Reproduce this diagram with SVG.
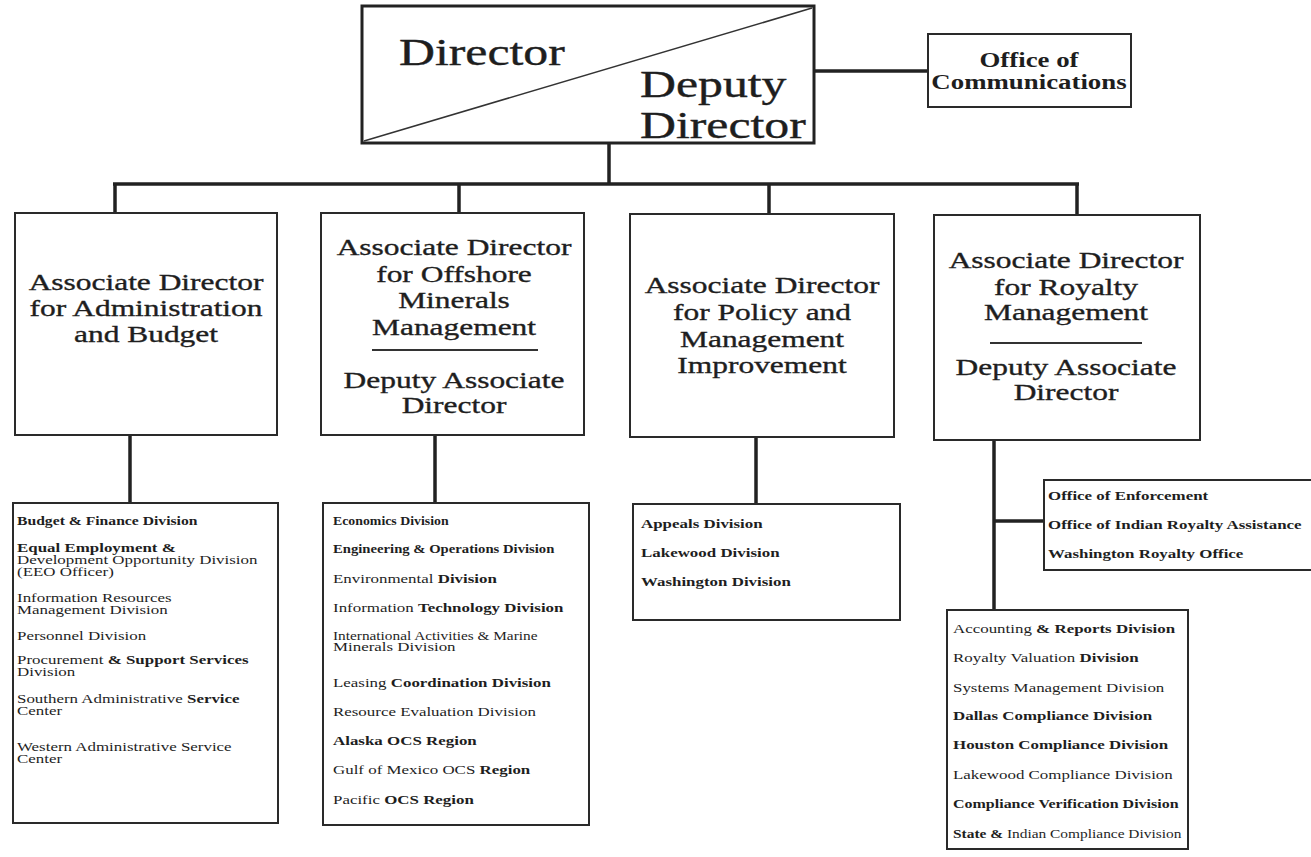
<svg xmlns="http://www.w3.org/2000/svg" width="1311" height="857" viewBox="0 0 1311 857">
<style>
.bx{fill:#fff;stroke:#2a2a2a;stroke-width:2}
.bxt{fill:#fff;stroke:#222;stroke-width:3}
.cn{fill:none;stroke:#222;stroke-width:3.5}
.rule{stroke:#333;stroke-width:2}
.t{font-family:"Liberation Serif","Times New Roman",serif;fill:#1e1e1e}
.h{font-size:24px;stroke:#1e1e1e;stroke-width:0.35}
.d{font-size:38px;stroke:#1e1e1e;stroke-width:0.4}
.c{font-size:20.5px;font-weight:bold}
.l{font-size:12px}
.b{font-weight:bold}
</style>
<rect width="1311" height="857" fill="#fff"/>
<g id="connectors">
<line class="cn" x1="814" y1="71" x2="928" y2="71"/>
<line class="cn" x1="609" y1="143" x2="609" y2="184"/>
<line class="cn" x1="113" y1="184" x2="1079" y2="184"/>
<line class="cn" x1="115" y1="184" x2="115" y2="213"/>
<line class="cn" x1="459" y1="184" x2="459" y2="213"/>
<line class="cn" x1="769" y1="184" x2="769" y2="214"/>
<line class="cn" x1="1077" y1="184" x2="1077" y2="215"/>
<line class="cn" x1="130" y1="435" x2="130" y2="503"/>
<line class="cn" x1="435" y1="435" x2="435" y2="503"/>
<line class="cn" x1="756" y1="437" x2="756" y2="504"/>
<line class="cn" x1="994" y1="440" x2="994" y2="610"/>
<line class="cn" x1="994" y1="521" x2="1044" y2="521"/>
</g>
<g id="director">
<rect class="bxt" x="362" y="6" width="452" height="137"/>
<line stroke="#333" stroke-width="1.5" x1="364" y1="141" x2="812" y2="8"/>
<text class="t d" transform="translate(399 0) scale(1.31 1)" x="0" y="65">Director</text>
<text class="t d" transform="translate(640 0) scale(1.31 1)"><tspan x="0" y="97">Deputy</tspan><tspan x="0" y="138">Director</tspan></text>
</g>
<g id="communications">
<rect class="bx" x="928" y="34" width="203" height="73"/>
<text class="t c" transform="translate(1029 0) scale(1.31 1)" text-anchor="middle"><tspan x="0" y="67">Office of</tspan><tspan x="0" y="89">Communications</tspan></text>
</g>
<g id="ad-admin">
<rect class="bx" x="15" y="213" width="262" height="222"/>
<text class="t h" transform="translate(146 0) scale(1.31 1)" text-anchor="middle"><tspan x="0" y="290">Associate Director</tspan><tspan x="0" y="316">for Administration</tspan><tspan x="0" y="342">and Budget</tspan></text>
</g>
<g id="ad-offshore">
<rect class="bx" x="321" y="213" width="263" height="222"/>
<text class="t h" transform="translate(454 0) scale(1.31 1)" text-anchor="middle"><tspan x="0" y="255">Associate Director</tspan><tspan x="0" y="282">for Offshore</tspan><tspan x="0" y="308">Minerals</tspan><tspan x="0" y="335">Management</tspan><tspan x="0" y="388">Deputy Associate</tspan><tspan x="0" y="413">Director</tspan></text>
<line class="rule" x1="372" y1="350" x2="538" y2="350"/>
</g>
<g id="ad-policy">
<rect class="bx" x="630" y="214" width="264" height="223"/>
<text class="t h" transform="translate(762 0) scale(1.31 1)" text-anchor="middle"><tspan x="0" y="293">Associate Director</tspan><tspan x="0" y="320">for Policy and</tspan><tspan x="0" y="347">Management</tspan><tspan x="0" y="373">Improvement</tspan></text>
</g>
<g id="ad-royalty">
<rect class="bx" x="934" y="215" width="266" height="225"/>
<text class="t h" transform="translate(1066 0) scale(1.31 1)" text-anchor="middle"><tspan x="0" y="268">Associate Director</tspan><tspan x="0" y="295">for Royalty</tspan><tspan x="0" y="320">Management</tspan><tspan x="0" y="375">Deputy Associate</tspan><tspan x="0" y="400">Director</tspan></text>
<line class="rule" x1="990" y1="343" x2="1142" y2="343"/>
</g>
<g id="list-admin">
<rect class="bx" x="13" y="503" width="265" height="320"/>
<text class="t l" transform="translate(17 0) scale(1.41 1)">
<tspan x="0" y="525" class="b" textLength="128" lengthAdjust="spacingAndGlyphs">Budget &amp; Finance Division</tspan>
<tspan x="0" y="552" class="b">Equal Employment &amp;</tspan>
<tspan x="0" y="564">Development Opportunity Division</tspan>
<tspan x="0" y="576">(EEO Officer)</tspan>
<tspan x="0" y="602">Information Resources</tspan>
<tspan x="0" y="614">Management Division</tspan>
<tspan x="0" y="640">Personnel Division</tspan>
<tspan x="0" y="664">Procurement <tspan class="b">&amp; Support Services</tspan></tspan>
<tspan x="0" y="676">Division</tspan>
<tspan x="0" y="703">Southern Administrative <tspan class="b">Service</tspan></tspan>
<tspan x="0" y="715">Center</tspan>
<tspan x="0" y="751">Western Administrative Service</tspan>
<tspan x="0" y="763">Center</tspan>
</text>
</g>
<g id="list-offshore">
<rect class="bx" x="323" y="503" width="266" height="322"/>
<text class="t l" transform="translate(333 0) scale(1.41 1)">
<tspan x="0" y="525" class="b" textLength="82" lengthAdjust="spacingAndGlyphs">Economics Division</tspan>
<tspan x="0" y="553" class="b" textLength="157" lengthAdjust="spacingAndGlyphs">Engineering &amp; Operations Division</tspan>
<tspan x="0" y="583">Environmental <tspan class="b">Division</tspan></tspan>
<tspan x="0" y="612">Information <tspan class="b">Technology Division</tspan></tspan>
<tspan x="0" y="640" textLength="145" lengthAdjust="spacingAndGlyphs">International Activities &amp; Marine</tspan>
<tspan x="0" y="651">Minerals Division</tspan>
<tspan x="0" y="687">Leasing <tspan class="b">Coordination Division</tspan></tspan>
<tspan x="0" y="716">Resource Evaluation Division</tspan>
<tspan x="0" y="745" class="b">Alaska OCS Region</tspan>
<tspan x="0" y="774">Gulf of Mexico OCS <tspan class="b">Region</tspan></tspan>
<tspan x="0" y="804">Pacific <tspan class="b">OCS Region</tspan></tspan>
</text>
</g>
<g id="list-policy">
<rect class="bx" x="633" y="504" width="267" height="116"/>
<text class="t l b" transform="translate(641 0) scale(1.41 1)">
<tspan x="0" y="528">Appeals Division</tspan>
<tspan x="0" y="557">Lakewood Division</tspan>
<tspan x="0" y="586">Washington Division</tspan>
</text>
</g>
<g id="list-royalty-offices">
<rect class="bx" x="1044" y="480" width="270" height="90"/>
<text class="t l b" transform="translate(1048 0) scale(1.41 1)">
<tspan x="0" y="500">Office of Enforcement</tspan>
<tspan x="0" y="529">Office of Indian Royalty Assistance</tspan>
<tspan x="0" y="558">Washington Royalty Office</tspan>
</text>
</g>
<g id="list-royalty-divisions">
<rect class="bx" x="947" y="610" width="241" height="239"/>
<text class="t l" transform="translate(953 0) scale(1.41 1)">
<tspan x="0" y="633">Accounting <tspan class="b">&amp; Reports Division</tspan></tspan>
<tspan x="0" y="662">Royalty Valuation <tspan class="b">Division</tspan></tspan>
<tspan x="0" y="692">Systems Management Division</tspan>
<tspan x="0" y="720" class="b">Dallas Compliance Division</tspan>
<tspan x="0" y="749" class="b">Houston Compliance Division</tspan>
<tspan x="0" y="779">Lakewood Compliance Division</tspan>
<tspan x="0" y="808" class="b" textLength="160" lengthAdjust="spacingAndGlyphs">Compliance Verification Division</tspan>
<tspan x="0" y="838" textLength="162" lengthAdjust="spacingAndGlyphs"><tspan class="b">State &amp;</tspan> Indian Compliance Division</tspan>
</text>
</g>
</svg>
